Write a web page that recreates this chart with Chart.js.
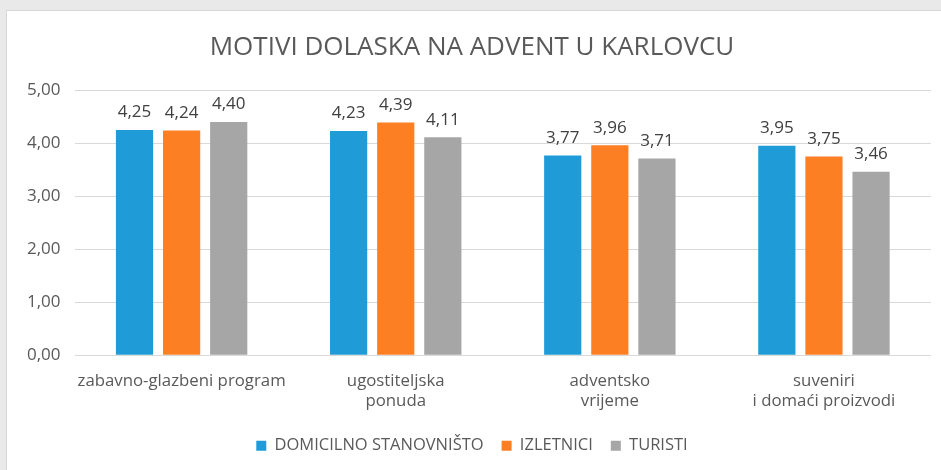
<!DOCTYPE html>
<html>
<head>
<meta charset="utf-8">
<script src="https://cdn.jsdelivr.net/npm/chart.js@4/dist/chart.umd.min.js"></script>
<style>
    html, body { margin: 0; padding: 0; }
    body { width: 941px; height: 470px; background: #e9e9e9; position: relative; overflow: hidden; }
    .frame { position: absolute; left: 6px; top: 10px; width: 935px; height: 460px; background: #fff; border-top: 1px solid #d6d6d6; border-left: 1px solid #d6d6d6; }
    canvas { display: block; }
</style>
</head>
<body>
<div class="frame">
    <canvas id="chart" width="934" height="459"></canvas>
</div>
<script>
// --- DATA ---
const categories = [
    ['zabavno-glazbeni program'],
    ['ugostiteljska', 'ponuda'],
    ['adventsko', 'vrijeme'],
    ['suveniri', 'i domaći proizvodi']
];
const seriesNames = ['DOMICILNO STANOVNIŠTO', 'IZLETNICI', 'TURISTI'];
const domicilno = [4.25, 4.23, 3.77, 3.95];
const izletnici = [4.24, 4.39, 3.96, 3.75];
const turisti = [4.40, 4.11, 3.71, 3.46];
const yTicks = [0, 1, 2, 3, 4, 5];

const colors = ['#1f9cd8', '#fd7f24', '#a6a6a6'];
const fontFamily = "'Open Sans', 'Noto Sans', sans-serif";

const fmt = v => v.toFixed(2).replace('.', ',');

// Simple value labels above bars
const valueLabels = {
    id: 'valueLabels',
    afterDatasetsDraw(chart) {
        const ctx = chart.ctx;
        ctx.save();
        ctx.font = '17px ' + fontFamily;
        ctx.fillStyle = '#404040';
        ctx.textAlign = 'center';
        ctx.textBaseline = 'bottom';
        chart.data.datasets.forEach((ds, i) => {
            chart.getDatasetMeta(i).data.forEach((bar, j) => {
                ctx.fillText(fmt(ds.data[j]), bar.x, bar.y - 9);
            });
        });
        ctx.restore();
    }
};

new Chart(document.getElementById('chart'), {
    type: 'bar',
    data: {
        labels: categories,
        datasets: [domicilno, izletnici, turisti].map((d, i) => ({
            label: seriesNames[i],
            data: d,
            backgroundColor: colors[i],
            categoryPercentage: 0.66,
            barPercentage: 0.79
        }))
    },
    options: {
        responsive: false,
        animation: false,
        layout: { padding: { left: 6, right: 10, top: 0, bottom: 6 } },
        plugins: {
            title: {
                display: true,
                text: 'MOTIVI DOLASKA NA ADVENT U KARLOVCU',
                color: '#595959',
                font: { family: fontFamily, size: 26, weight: 'normal' },
                padding: { top: 21, bottom: 27 }
            },
            legend: {
                position: 'bottom',
                labels: {
                    color: '#595959',
                    font: { family: fontFamily, size: 16.5 },
                    boxWidth: 10,
                    boxHeight: 10,
                    padding: 18
                }
            },
            tooltip: { enabled: false }
        },
        scales: {
            x: {
                grid: { display: false },
                border: { display: false },
                ticks: {
                    color: '#595959',
                    font: { family: fontFamily, size: 16.8 },
                    padding: 8,
                    maxRotation: 0
                }
            },
            y: {
                min: yTicks[0],
                max: yTicks[yTicks.length - 1],
                afterBuildTicks: axis => { axis.ticks = yTicks.map(v => ({ value: v })); },
                grid: { color: '#d9d9d9', drawTicks: false },
                border: { display: false },
                ticks: {
                    color: '#595959',
                    font: { family: fontFamily, size: 17 },
                    padding: 14,
                    callback: v => fmt(v)
                }
            }
        }
    },
    plugins: [valueLabels]
});
</script>
</body>
</html>
